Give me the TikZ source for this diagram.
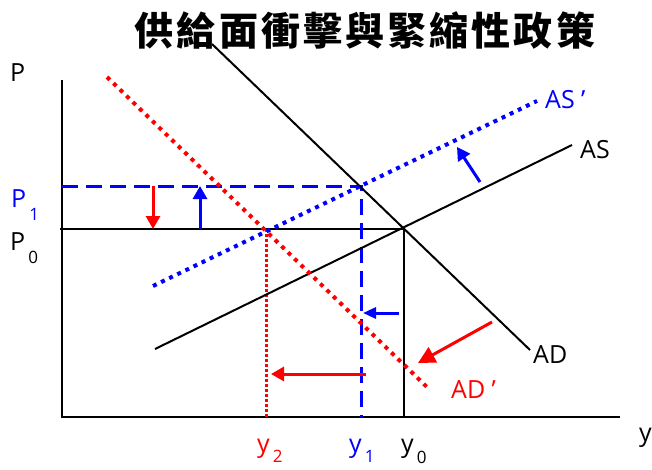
\documentclass[tikz,border=0pt]{standalone}
\usepackage{fontspec}
\setmainfont{Open Sans}
\newfontfamily\cjk{Noto Sans CJK TC}[LetterSpace=8]
\usetikzlibrary{arrows.meta}
\definecolor{shiftblue}{HTML}{0000FF}
\definecolor{shiftred}{HTML}{FF0000}
\newcommand\subl[2][13pt]{\hspace{3pt}\raisebox{-#1}{\fontsize{17}{17}\selectfont #2}}

\tikzset{
  curve/.style={line width=2pt},
  axis/.style={line width=2.5pt},
  dotline/.style={line width=4pt, dash pattern=on 4pt off 5pt},
  dashline/.style={shiftblue, line width=3pt, dash pattern=on 16pt off 8pt},
  lab/.style={inner sep=0pt, anchor=base west, font=\fontsize{25}{30}\selectfont},
  move/.style={line width=3pt, -{Triangle[width=14pt,length=13pt]}},
}

\begin{document}
\begin{tikzpicture}[x=1pt, y=-1pt]
  \useasboundingbox (0,0) rectangle (652,469);
  % title
  \node (title) [font=\cjk\bfseries\fontsize{39}{44}\selectfont] at (365,30) {供給面衝擊與緊縮性政策};

  % axes
  \coordinate (ytop) at (62,80);
  \coordinate (orig) at (62,417);
  \coordinate (xend) at (620,417);
  \draw[axis] (ytop) -- (orig) -- (xend);

  % equilibria
  \coordinate (e0) at (404,229);
  \coordinate (e1) at (361,186);
  \coordinate (e2) at (266,229);
  \draw[curve] (60,229) -- (e0);
  \draw[curve] (e0) -- (e0 |- orig);
  \draw[dashline] (ytop |- e1) -- (e1) -- (e1 |- orig);
  \draw[shiftred, line width=3pt, dash pattern=on 3pt off 2pt] (e2) -- (e2 |- orig);

  % curves
  \coordinate (ad a) at (212,44);   \coordinate (ad b) at (530,350);
  \coordinate (ad2 a) at (107,77);  \coordinate (ad2 b) at (430,390);
  \coordinate (as a) at (155,349);  \coordinate (as b) at (572,145);
  \coordinate (as2 a) at (153,286); \coordinate (as2 b) at (537,101);
  \draw[curve] (ad a) -- (ad b);
  \draw[curve] (as a) -- (as b);
  \draw[dotline, shiftred] (ad2 a) -- (ad2 b);
  \draw[dotline, shiftblue] (as2 a) -- (as2 b);

  % shifts
  \draw[move, shiftred] (153,186) -- (153,229);
  \draw[move, shiftblue] (200,229) -- (200,186);
  \draw[move, shiftblue] (480,182) -- (457,147);
  \draw[move, shiftblue, -{Triangle[width=11pt,length=13pt]}] (399,313) -- (363,313);
  \draw[move, shiftred, -{Triangle[width=17pt,length=17pt]}] (492,322) -- (418,363);
  \draw[move, shiftred] (366,374) -- (271,374);

  % labels
  \node (p) [lab] at (10,81) {P};
  \node (p1) [lab, text=shiftblue] at (11,207) {P\subl{1}};
  \node (p0) [lab] at (10,250) {P\subl{0}};
  \node (y) [lab] at (639,441) {y};
  \node (y2) [lab, text=shiftred] at (257,452) {y\subl[10pt]{2}};
  \node (y1) [lab, text=shiftblue] at (349,452) {y\subl[10pt]{1}};
  \node (y0) [lab] at (401,452) {y\subl[11pt]{0}};
  \node (as2) [lab, text=shiftblue] at (545,108) {AS ’};
  \node (as) [lab] at (580,158) {AS};
  \node (ad) [lab] at (533,363) {AD};
  \node (ad2) [lab, text=shiftred] at (451,398) {AD ’};
\end{tikzpicture}
\end{document}
